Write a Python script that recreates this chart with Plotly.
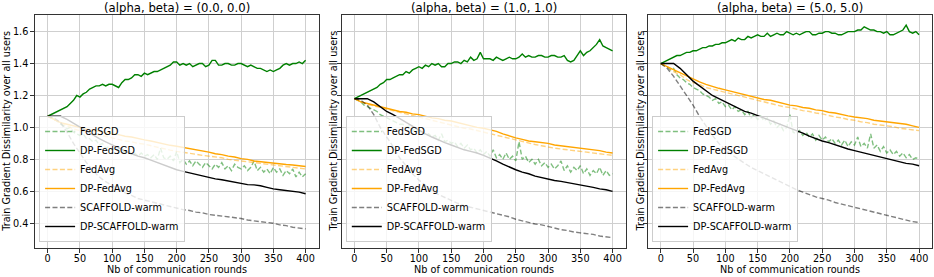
import plotly.graph_objects as go

# ---------------- data ----------------
rounds_fine = list(range(0, 401, 5))     # noisy curves read every 5 rounds
rounds_coarse = list(range(0, 401, 10))  # smooth curves read every 10 rounds

panel_titles = ["(alpha, beta) = (0.0, 0.0)", "(alpha, beta) = (1.0, 1.0)", "(alpha, beta) = (5.0, 5.0)"]
series_names = ["FedSGD", "DP-FedSGD", "FedAvg", "DP-FedAvg", "SCAFFOLD-warm", "DP-SCAFFOLD-warm"]
x_ticks = [0, 50, 100, 150, 200, 250, 300, 350, 400]
y_ticks = [0.4, 0.6, 0.8, 1.0, 1.2, 1.4, 1.6]

# ---- panel 1: (0.0, 0.0) ----
p1_fedsgd = [1.07, 1.06, 1.05, 1.04, 1.02, 1.01, 0.99, 1.00, 0.97, 0.96,
             0.95, 0.96, 0.93, 0.93, 0.91, 0.92, 0.89, 0.90, 0.87, 0.88,
             0.86, 0.87, 0.85, 0.86, 0.84, 0.85, 0.83, 0.84, 0.82, 0.84,
             0.82, 0.83, 0.81, 0.83, 0.80, 0.87, 0.81, 0.80, 0.82, 0.79,
             0.85, 0.78, 0.80, 0.77, 0.79, 0.76, 0.79, 0.77, 0.75, 0.78,
             0.76, 0.74, 0.77, 0.75, 0.78, 0.74, 0.76, 0.73, 0.77, 0.75,
             0.74, 0.76, 0.73, 0.75, 0.79, 0.73, 0.75, 0.72, 0.74, 0.71,
             0.75, 0.72, 0.74, 0.70, 0.73, 0.71, 0.74, 0.69, 0.72, 0.69,
             0.71]
p1_dp_fedsgd = [1.07, 1.08, 1.09, 1.10, 1.11, 1.12, 1.13, 1.15, 1.17, 1.20,
                1.19, 1.21, 1.22, 1.24, 1.25, 1.26, 1.26, 1.27, 1.26, 1.27,
                1.27, 1.26, 1.25, 1.28, 1.30, 1.30, 1.31, 1.33, 1.33, 1.32,
                1.34, 1.33, 1.34, 1.35, 1.35, 1.36, 1.37, 1.38, 1.39, 1.41,
                1.41, 1.39, 1.40, 1.39, 1.40, 1.38, 1.39, 1.40, 1.40, 1.38,
                1.39, 1.42, 1.42, 1.39, 1.39, 1.40, 1.40, 1.39, 1.39, 1.40,
                1.40, 1.39, 1.38, 1.39, 1.38, 1.37, 1.37, 1.36, 1.35, 1.36,
                1.35, 1.36, 1.37, 1.39, 1.40, 1.39, 1.40, 1.40, 1.41, 1.40,
                1.42]
p1_fedavg = [1.07, 1.05, 1.03, 1.01, 0.99, 0.98, 0.97, 0.96, 0.95, 0.945,
             0.935, 0.925, 0.915, 0.91, 0.90, 0.895, 0.885, 0.875, 0.865, 0.858,
             0.85, 0.845, 0.838, 0.832, 0.825, 0.82, 0.815, 0.81, 0.80, 0.795,
             0.79, 0.785, 0.78, 0.775, 0.77, 0.765, 0.76, 0.755, 0.75, 0.745,
             0.74]
p1_dp_fedavg = [1.07, 1.05, 1.03, 1.02, 1.01, 1.00, 0.99, 0.98, 0.975, 0.97,
                0.962, 0.955, 0.945, 0.94, 0.93, 0.922, 0.915, 0.905, 0.895, 0.888,
                0.882, 0.875, 0.865, 0.86, 0.85, 0.845, 0.835, 0.83, 0.82, 0.815,
                0.805, 0.80, 0.79, 0.785, 0.78, 0.775, 0.77, 0.768, 0.765, 0.76,
                0.755]
p1_scaffold = [1.07, 1.06, 1.03, 0.97, 0.90, 0.84, 0.78, 0.73, 0.69, 0.66,
               0.635, 0.61, 0.59, 0.575, 0.555, 0.545, 0.535, 0.525, 0.515, 0.505,
               0.495, 0.485, 0.48, 0.47, 0.465, 0.455, 0.45, 0.445, 0.44, 0.435,
               0.43, 0.42, 0.415, 0.41, 0.405, 0.40, 0.39, 0.385, 0.375, 0.37,
               0.365]
p1_dp_scaffold = [1.07, 1.07, 1.07, 1.05, 1.025, 1.00, 0.975, 0.95, 0.93, 0.91,
                  0.89, 0.87, 0.85, 0.835, 0.82, 0.81, 0.795, 0.78, 0.765, 0.75,
                  0.735, 0.725, 0.715, 0.705, 0.695, 0.685, 0.678, 0.672, 0.665, 0.655,
                  0.648, 0.642, 0.64, 0.635, 0.625, 0.615, 0.61, 0.605, 0.60, 0.595,
                  0.585]

# ---- panel 2: (1.0, 1.0) ----
p2_fedsgd = [1.18, 1.17, 1.16, 1.14, 1.13, 1.12, 1.11, 1.10, 1.08, 1.07,
             1.06, 1.05, 1.04, 1.03, 1.02, 1.02, 1.00, 1.01, 0.98, 0.99,
             0.97, 0.98, 0.95, 0.96, 0.94, 0.95, 0.92, 0.96, 0.91, 0.92,
             0.90, 0.91, 0.88, 0.90, 0.87, 0.89, 0.86, 0.87, 0.84, 0.86,
             0.83, 0.85, 0.82, 0.86, 0.81, 0.83, 0.80, 0.84, 0.80, 0.82,
             0.79, 0.91, 0.80, 0.82, 0.78, 0.80, 0.77, 0.80, 0.76, 0.78,
             0.75, 0.77, 0.74, 0.76, 0.79, 0.73, 0.76, 0.72, 0.75, 0.73,
             0.76, 0.71, 0.74, 0.70, 0.73, 0.71, 0.75, 0.70, 0.73, 0.70,
             0.71]
p2_dp_fedsgd = [1.18, 1.19, 1.20, 1.21, 1.22, 1.23, 1.24, 1.25, 1.27, 1.28,
                1.30, 1.30, 1.31, 1.32, 1.33, 1.33, 1.35, 1.34, 1.36, 1.37,
                1.38, 1.37, 1.39, 1.38, 1.40, 1.39, 1.40, 1.38, 1.38, 1.40,
                1.40, 1.41, 1.41, 1.40, 1.42, 1.41, 1.44, 1.42, 1.43, 1.47,
                1.43, 1.43, 1.43, 1.42, 1.44, 1.43, 1.42, 1.43, 1.44, 1.43,
                1.43, 1.44, 1.46, 1.44, 1.45, 1.44, 1.44, 1.45, 1.45, 1.44,
                1.44, 1.45, 1.45, 1.44, 1.44, 1.45, 1.42, 1.41, 1.42, 1.45,
                1.48, 1.45, 1.47, 1.48, 1.50, 1.52, 1.55, 1.51, 1.50, 1.49,
                1.48]
p2_fedavg = [1.18, 1.16, 1.145, 1.135, 1.125, 1.115, 1.105, 1.095, 1.085, 1.075,
             1.065, 1.055, 1.045, 1.035, 1.025, 1.015, 1.005, 0.995, 0.99, 0.98,
             0.972, 0.962, 0.952, 0.942, 0.932, 0.922, 0.912, 0.902, 0.893, 0.885,
             0.876, 0.87, 0.865, 0.86, 0.855, 0.85, 0.845, 0.84, 0.835, 0.83,
             0.825]
p2_dp_fedavg = [1.18, 1.16, 1.15, 1.14, 1.13, 1.12, 1.11, 1.10, 1.095, 1.085,
                1.08, 1.07, 1.06, 1.055, 1.045, 1.04, 1.03, 1.02, 1.01, 1.00,
                0.995, 0.985, 0.975, 0.96, 0.945, 0.935, 0.925, 0.915, 0.91, 0.905,
                0.90, 0.89, 0.885, 0.88, 0.875, 0.87, 0.865, 0.86, 0.855, 0.845,
                0.84]
p2_scaffold = [1.18, 1.17, 1.14, 1.08, 1.00, 0.94, 0.88, 0.81, 0.76, 0.71,
               0.67, 0.635, 0.605, 0.58, 0.56, 0.54, 0.525, 0.51, 0.50, 0.49,
               0.48, 0.47, 0.46, 0.45, 0.44, 0.425, 0.415, 0.405, 0.395, 0.39,
               0.38, 0.37, 0.36, 0.355, 0.345, 0.34, 0.335, 0.33, 0.32, 0.315,
               0.31]
p2_dp_scaffold = [1.18, 1.18, 1.18, 1.16, 1.13, 1.10, 1.08, 1.055, 1.03, 1.005,
                  0.98, 0.96, 0.94, 0.92, 0.905, 0.89, 0.875, 0.86, 0.85, 0.84,
                  0.825, 0.81, 0.79, 0.77, 0.75, 0.735, 0.72, 0.71, 0.695, 0.685,
                  0.675, 0.668, 0.662, 0.655, 0.648, 0.64, 0.635, 0.625, 0.615, 0.61,
                  0.60]

# ---- panel 3: (5.0, 5.0) ----
p3_fedsgd = [1.40, 1.39, 1.38, 1.36, 1.37, 1.33, 1.31, 1.30, 1.28, 1.27,
             1.25, 1.24, 1.23, 1.21, 1.20, 1.19, 1.17, 1.18, 1.15, 1.16,
             1.13, 1.14, 1.11, 1.13, 1.10, 1.11, 1.08, 1.10, 1.06, 1.08,
             1.05, 1.07, 1.04, 1.06, 1.02, 1.04, 1.00, 1.02, 0.98, 1.00,
             1.08, 0.97, 0.96, 0.98, 0.95, 0.97, 0.94, 0.96, 0.92, 0.95,
             0.92, 0.94, 0.91, 0.93, 0.90, 0.92, 0.89, 0.92, 0.88, 0.91,
             0.89, 0.94, 0.88, 0.90, 0.87, 0.96, 0.87, 0.89, 0.85, 0.88,
             0.84, 0.86, 0.83, 0.85, 0.82, 0.84, 0.81, 0.83, 0.80, 0.81,
             0.80]
p3_dp_fedsgd = [1.40, 1.41, 1.42, 1.43, 1.44, 1.45, 1.45, 1.46, 1.47, 1.47,
                1.48, 1.48, 1.49, 1.50, 1.50, 1.51, 1.51, 1.52, 1.52, 1.53,
                1.53, 1.54, 1.55, 1.54, 1.56, 1.55, 1.55, 1.57, 1.56, 1.57,
                1.58, 1.57, 1.57, 1.59, 1.57, 1.58, 1.59, 1.58, 1.58, 1.60,
                1.59, 1.58, 1.59, 1.58, 1.59, 1.60, 1.60, 1.58, 1.58, 1.59,
                1.59, 1.60, 1.60, 1.59, 1.59, 1.58, 1.58, 1.59, 1.60, 1.60,
                1.60, 1.61, 1.61, 1.63, 1.62, 1.61, 1.61, 1.60, 1.60, 1.59,
                1.60, 1.58, 1.58, 1.59, 1.60, 1.61, 1.64, 1.60, 1.59, 1.60,
                1.58]
p3_fedavg = [1.40, 1.38, 1.35, 1.33, 1.30, 1.28, 1.27, 1.25, 1.24, 1.23,
             1.22, 1.21, 1.20, 1.19, 1.18, 1.17, 1.16, 1.15, 1.14, 1.13,
             1.125, 1.115, 1.105, 1.10, 1.09, 1.085, 1.075, 1.065, 1.06, 1.05,
             1.045, 1.035, 1.03, 1.02, 1.015, 1.01, 1.005, 0.995, 0.99, 0.985,
             0.98]
p3_dp_fedavg = [1.40, 1.38, 1.36, 1.34, 1.32, 1.30, 1.285, 1.27, 1.255, 1.245,
                1.235, 1.225, 1.215, 1.205, 1.195, 1.185, 1.175, 1.17, 1.16, 1.15,
                1.14, 1.135, 1.125, 1.12, 1.11, 1.105, 1.095, 1.09, 1.08, 1.072,
                1.065, 1.06, 1.055, 1.045, 1.04, 1.035, 1.03, 1.025, 1.02, 1.01,
                1.00]
p3_scaffold = [1.40, 1.37, 1.32, 1.26, 1.20, 1.14, 1.07, 1.01, 0.95, 0.90,
               0.86, 0.83, 0.80, 0.775, 0.75, 0.73, 0.71, 0.69, 0.67, 0.645,
               0.625, 0.61, 0.595, 0.58, 0.565, 0.555, 0.545, 0.53, 0.52, 0.51,
               0.50, 0.49, 0.48, 0.47, 0.46, 0.45, 0.44, 0.43, 0.42, 0.41,
               0.405]
p3_dp_scaffold = [1.40, 1.40, 1.40, 1.37, 1.33, 1.29, 1.26, 1.23, 1.20, 1.18,
                  1.16, 1.14, 1.12, 1.10, 1.09, 1.075, 1.06, 1.04, 1.025, 1.01,
                  0.995, 0.98, 0.965, 0.945, 0.93, 0.915, 0.905, 0.89, 0.88, 0.865,
                  0.855, 0.845, 0.835, 0.825, 0.815, 0.805, 0.795, 0.785, 0.775, 0.77,
                  0.76]

panels = [
    [p1_fedsgd, p1_dp_fedsgd, p1_fedavg, p1_dp_fedavg, p1_scaffold, p1_dp_scaffold],
    [p2_fedsgd, p2_dp_fedsgd, p2_fedavg, p2_dp_fedavg, p2_scaffold, p2_dp_scaffold],
    [p3_fedsgd, p3_dp_fedsgd, p3_fedavg, p3_dp_fedavg, p3_scaffold, p3_dp_scaffold],
]

# ---------------- style ----------------
W, H = 934, 277
FONT = "DejaVu Sans"
styles = [
    dict(color="rgba(0,128,0,0.5)", dash="5px,2.4px"),
    dict(color="rgb(0,128,0)", dash="solid"),
    dict(color="rgba(255,165,0,0.5)", dash="5px,2.4px"),
    dict(color="rgb(255,165,0)", dash="solid"),
    dict(color="rgba(0,0,0,0.5)", dash="5px,2.4px"),
    dict(color="rgb(0,0,0)", dash="solid"),
]
fine_series = {0, 1}

# pixel geometry of the three axes boxes
x_px = [(34.8, 318.5), (341.5, 625.5), (647.8, 932.0)]
y_top, y_bot = 15.0, 248.0

fig = go.Figure()
for p, series in enumerate(panels):
    xa = "x" if p == 0 else f"x{p+1}"
    ya = "y" if p == 0 else f"y{p+1}"
    lg = "legend" if p == 0 else f"legend{p+1}"
    for i, vals in enumerate(series):
        xs = rounds_fine if i in fine_series else rounds_coarse
        fig.add_trace(go.Scatter(
            x=xs, y=vals, mode="lines", name=series_names[i],
            line=dict(color=styles[i]["color"], dash=styles[i]["dash"], width=1.4),
            xaxis=xa, yaxis=ya, legend=lg, showlegend=True, hoverinfo="skip",
        ))

axis_common = dict(
    showline=True, linecolor="#333333", linewidth=1, mirror=True,
    showgrid=True, gridcolor="#cfcfcf", gridwidth=1,
    zeroline=False, ticks="outside", ticklen=3.5, tickwidth=1, tickcolor="#333333",
    tickfont=dict(family=FONT, size=9.7, color="#000000"),
)

layout = dict(
    width=W, height=H, margin=dict(l=0, r=0, t=0, b=0),
    paper_bgcolor="white", plot_bgcolor="white",
    font=dict(family=FONT, size=9.7, color="#000000"),
    annotations=[],
)
for p in range(3):
    sx = "" if p == 0 else str(p + 1)
    dom = [x_px[p][0] / W, x_px[p][1] / W]
    layout["xaxis" + sx] = dict(
        axis_common, domain=dom, range=[-20, 420], tickvals=x_ticks,
        anchor="y" + sx, ticklabelstandoff=-2,
    )
    ydict = dict(
        axis_common, domain=[1 - y_bot / H, 1 - y_top / H], range=[0.245, 1.704],
        tickvals=y_ticks, tickformat=".1f", anchor="x" + sx,
        showticklabels=(p == 0),
    )
    if p > 0:
        ydict["matches"] = "y"
    layout["yaxis" + sx] = ydict
    layout["legend" + ("" if p == 0 else str(p + 1))] = dict(
        x=(x_px[p][0] + 4.3) / W, y=1 - 242 / H, xanchor="left", yanchor="bottom",
        bgcolor="rgba(255,255,255,0.8)", bordercolor="#cccccc", borderwidth=1,
        font=dict(family=FONT, size=9.7, color="#000000"), tracegroupgap=0,
    )
    cx = (x_px[p][0] + x_px[p][1]) / 2 / W
    layout["annotations"] += [
        dict(text=panel_titles[p], x=cx, y=1 - 8 / H, xref="paper", yref="paper",
             showarrow=False, xanchor="center", yanchor="middle",
             font=dict(family=FONT, size=11.7, color="#000000")),
        dict(text="Nb of communication rounds", x=cx, y=1 - 269.5 / H, xref="paper", yref="paper",
             showarrow=False, xanchor="center", yanchor="middle",
             font=dict(family=FONT, size=9.7, color="#000000")),
        dict(text="Train Gradient Dissimilarity over all users",
             x=[6.3, 333.0, 640.0][p] / W, y=1 - 131.5 / H, xref="paper", yref="paper",
             showarrow=False, xanchor="center", yanchor="middle", textangle=-90,
             font=dict(family=FONT, size=9.7, color="#000000")),
    ]

fig.update_layout(**layout)
fig.write_html(
    "out.html",
    config={"displayModeBar": False, "staticPlot": True},
    post_script="document.body.style.margin='0';document.body.style.overflow='hidden';",
)
